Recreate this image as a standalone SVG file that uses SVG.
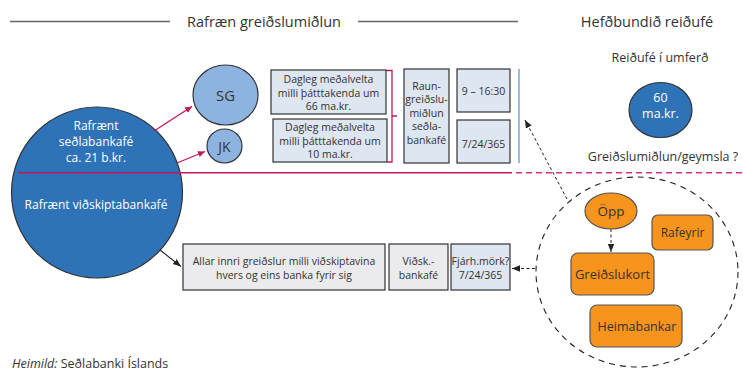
<svg xmlns="http://www.w3.org/2000/svg" width="743" height="369" viewBox="0 0 743 369">
  <defs>
    <style>
      text { font-family: "Open Sans", "Noto Sans", "DejaVu Sans", sans-serif; fill: #333; }
      .hdr { font-size: 14.5px; text-anchor: middle; }
      .lbl { font-size: 12.5px; text-anchor: middle; }
      .w { fill: #fff; font-size: 12px; text-anchor: middle; }
      .sm { font-size: 10.5px; text-anchor: middle; }
      .box { fill: #dde6f1; stroke: #333; stroke-width: 1.2; }
      .gbox { fill: #ebebed; stroke: #333; stroke-width: 1.2; }
      .org { fill: #f7941d; stroke: #555; stroke-width: 1.2; }
      .pink { stroke: #c2185b; stroke-width: 1.3; fill: none; }
      .dash { stroke: #222; stroke-width: 1; stroke-dasharray: 3 2.5; fill: none; }
    </style>
    <marker id="ap" markerWidth="8" markerHeight="8" refX="7" refY="4" orient="auto" markerUnits="userSpaceOnUse">
      <path d="M0,0.8 L7,4 L0,7.2 Z" fill="#c2185b"/>
    </marker>
    <marker id="ak" markerWidth="9" markerHeight="8" refX="8" refY="4" orient="auto" markerUnits="userSpaceOnUse">
      <path d="M0,0.8 L8,4 L0,7.2 Z" fill="#222"/>
    </marker>
  </defs>

  <rect width="743" height="369" fill="#fff"/>

  <!-- section headings -->
  <g id="headings">
    <line x1="10" y1="21.5" x2="170" y2="21.5" stroke="#666" stroke-width="1.4"/>
    <text class="hdr" x="264" y="27">Rafræn greiðslumiðlun</text>
    <line x1="358" y1="21.5" x2="518" y2="21.5" stroke="#666" stroke-width="1.4"/>
    <text class="hdr" x="647" y="27">Hefðbundið reiðufé</text>
  </g>

  <!-- central bank / commercial bank split -->
  <g id="central-bank-money">
    <circle cx="97" cy="192.5" r="85.5" fill="#2e73b8" stroke="#333" stroke-width="1.2"/>
    <text class="w" x="96" y="130">Rafrænt</text>
    <text class="w" x="96" y="146">seðlabankafé</text>
    <text class="w" x="96" y="161.5">ca. 21 b.kr.</text>
    <text class="w" x="96" y="209">Rafrænt viðskiptabankafé</text>
  </g>

  <g id="divider">
    <line x1="18" y1="172.8" x2="512" y2="172.8" stroke="#c2185b" stroke-width="1.5"/>
    <line x1="516" y1="172.8" x2="743" y2="172.8" stroke="#d6338a" stroke-width="1.5" stroke-dasharray="6 4"/>
  </g>

  <g id="sg">
    <ellipse cx="225.5" cy="95" rx="32.5" ry="30" fill="#8db3e0" stroke="#333" stroke-width="1.2"/>
    <text class="lbl" x="225.5" y="101" style="font-size:15px">SG</text>
  </g>
  <g id="jk">
    <ellipse cx="224.5" cy="146" rx="17.5" ry="17" fill="#8db3e0" stroke="#333" stroke-width="1.2"/>
    <text class="lbl" x="224.5" y="151.5" style="font-size:14px">JK</text>
  </g>

  <g id="sg-volume">
    <rect class="box" x="271" y="70" width="115" height="44"/>
    <text class="sm" x="328.5" y="83">Dagleg meðalvelta</text>
    <text class="sm" x="328.5" y="96.5">milli þátttakenda um</text>
    <text class="sm" x="328.5" y="110">66 ma.kr.</text>
  </g>
  <g id="jk-volume">
    <rect class="box" x="273" y="119" width="114" height="43"/>
    <text class="sm" x="330" y="131">Dagleg meðalvelta</text>
    <text class="sm" x="330" y="144.5">milli þátttakenda um</text>
    <text class="sm" x="330" y="158">10 ma.kr.</text>
  </g>

  <g id="rtgs">
    <rect class="box" x="404" y="69" width="45" height="94"/>
    <text class="sm" x="426.5" y="90">Raun-</text>
    <text class="sm" x="426.5" y="103">greiðslu-</text>
    <text class="sm" x="426.5" y="116.5">miðlun</text>
    <text class="sm" x="426.5" y="130">seðla-</text>
    <text class="sm" x="426.5" y="144">bankafé</text>
  </g>
  <g id="hours">
    <rect class="box" x="457" y="69" width="53" height="43"/>
    <text class="sm" x="483.5" y="94.5">9 – 16:30</text>
  </g>
  <g id="always-on">
    <rect class="box" x="457" y="120" width="53" height="43"/>
    <text class="sm" x="483.5" y="147.5">7/24/365</text>
  </g>
  <g id="boundary">
    <line x1="519" y1="69" x2="519" y2="163" stroke="#7fa6d6" stroke-width="1.5"/>
  </g>

  <g id="internal-payments">
    <rect class="gbox" x="183" y="244" width="202" height="46"/>
    <text class="sm" x="284" y="265">Allar innri greiðslur milli viðskiptavina</text>
    <text class="sm" x="284" y="279">hvers og eins banka fyrir sig</text>
  </g>
  <g id="bank-money">
    <rect class="gbox" x="389" y="244" width="59" height="46"/>
    <text class="sm" x="418.5" y="265">Viðsk.-</text>
    <text class="sm" x="418.5" y="279">bankafé</text>
  </g>
  <g id="limits">
    <rect class="box" x="451" y="244" width="59" height="46"/>
    <text class="sm" x="480.5" y="265">Fjárh.mörk?</text>
    <text class="sm" x="480.5" y="279">7/24/365</text>
  </g>

  <!-- cash side -->
  <g id="cash">
    <text class="lbl" x="660" y="62">Reiðufé í umferð</text>
    <ellipse cx="660.5" cy="110" rx="31.5" ry="27.5" fill="#2e73b8" stroke="#333" stroke-width="1.2"/>
    <text class="w" x="660.5" y="102" style="font-size:12.5px">60</text>
    <text class="w" x="660.5" y="118" style="font-size:12.5px">ma.kr.</text>
    <text class="lbl" x="663" y="161">Greiðslumiðlun/geymsla ?</text>
  </g>

  <g id="payment-methods">
    <ellipse cx="637" cy="272" rx="101" ry="95" fill="none" stroke="#222" stroke-width="1.1" stroke-dasharray="6 5"/>
  </g>
  <g id="opp">
    <ellipse class="org" cx="611" cy="211" rx="26" ry="18"/>
    <text class="lbl" x="611" y="216" style="font-size:13.5px">Öpp</text>
  </g>
  <g id="rafeyrir">
    <rect class="org" x="652" y="215" width="61" height="35" rx="6"/>
    <text class="lbl" x="682.5" y="237" style="font-size:12px">Rafeyrir</text>
  </g>
  <g id="greidslukort">
    <rect class="org" x="571" y="253" width="83" height="42" rx="7"/>
    <text class="lbl" x="612.5" y="279" style="font-size:13px">Greiðslukort</text>
  </g>
  <g id="heimabankar">
    <rect class="org" x="590" y="305" width="92" height="42" rx="7"/>
    <text class="lbl" x="637" y="331" style="font-size:12.5px">Heimabankar</text>
  </g>

  <!-- connectors -->
  <g id="connectors">
    <line class="pink" x1="154" y1="131" x2="192" y2="106.5" marker-end="url(#ap)"/>
    <line class="pink" x1="177" y1="163" x2="205" y2="151.5" marker-end="url(#ap)"/>
    <path class="pink" d="M386,70.5 H392 V162 H387 M392,116 H397"/>
    <line x1="160" y1="250" x2="181" y2="266.5" stroke="#222" stroke-width="1.1" marker-end="url(#ak)"/>
    <line class="dash" x1="567" y1="199" x2="525" y2="120" marker-end="url(#ak)"/>
    <line class="dash" x1="535" y1="268.5" x2="512" y2="268.5" marker-end="url(#ak)"/>
    <line class="dash" x1="611" y1="229" x2="611" y2="252" marker-end="url(#ak)"/>
  </g>

  <g id="source">
    <text x="12" y="368" style="font-size:12.5px"><tspan font-style="italic">Heimild:</tspan> Seðlabanki Íslands</text>
  </g>
</svg>
